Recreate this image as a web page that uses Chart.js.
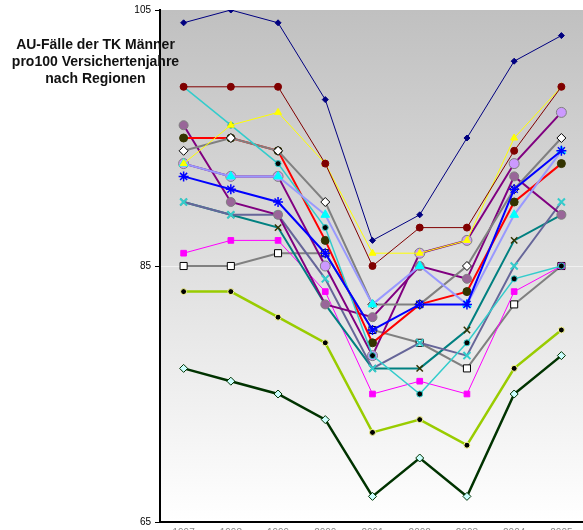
<!DOCTYPE html>
<html>
<head>
<meta charset="utf-8">
<script src="https://cdn.jsdelivr.net/npm/chart.js@4/dist/chart.umd.min.js"></script>
<style>
  html, body { margin: 0; padding: 0; background: #fff; overflow: hidden; }
  #wrap { position: relative; width: 583px; height: 530px; overflow: hidden; }
  #title {
    position: absolute; left: 0; top: 36px; width: 191px;
    font: bold 14px "Liberation Sans", Arial, sans-serif; line-height: 17px;
    text-align: center; color: #111;
  }
</style>
</head>
<body>
<div id="wrap">
  <canvas id="chart" width="592" height="545"></canvas>
  <div id="title">AU-Fälle der TK Männer<br>pro100 Versichertenjahre<br>nach Regionen</div>
</div>
<script>
// x categories (bottom labels are cut off in the picture)
const years = ["1997", "1998", "1999", "2000", "2001", "2002", "2003", "2004", "2005"];
const yTicks = [65, 85, 105];

// one array per region line
const navyVals     = [104, 105, 104, 98, 87, 89, 95, 101, 103];
const maroonVals   = [99, 99, 99, 93, 85, 88, 88, 94, 99];
const yellowVals   = [93, 96, 97, 93, 86, 86, 87, 95, 99];
const cyanVals     = [99, 96, 93, 88, 78, 75, 79, 84, 85];
const slateVals    = [90, 89, 89, 84, 77, 79, 78, 85, 90];
const tealVals     = [90, 89, 88, 82, 77, 77, 80, 87, 89];
const graySqVals   = [85, 85, 86, 86, 80, 79, 77, 82, 85];
const lavenderVals = [93, 92, 92, 89, 82, 85, 82, 89, 94];
const mauveVals    = [96, 90, 89, 82, 81, 85, 84, 92, 89];
const redVals      = [95, 95, 94, 87, 79, 82, 83, 90, 93];
const grayDiaVals  = [94, 95, 94, 90, 82, 82, 85, 91, 95];
const blueVals     = [92, 91, 90, 86, 80, 82, 82, 91, 94];
const magentaVals  = [86, 87, 87, 83, 75, 76, 75, 83, 85];
const lilacVals    = [93, 92, 92, 85, 78, 86, 87, 93, 97];
const greenYVals   = [83, 83, 81, 79, 72, 73, 71, 77, 80];
const darkGrnVals  = [77, 76, 75, 73, 67, 70, 67, 75, 78];

function line(data, color, width, style, radius, fill, border, bw) {
  return {
    data: data,
    borderColor: color,
    borderWidth: width,
    pointStyle: style,
    pointRadius: radius,
    pointBackgroundColor: fill,
    pointBorderColor: border,
    pointBorderWidth: bw,
    tension: 0,
    fill: false
  };
}

// gray-to-white fill behind the plot
const bgPlugin = {
  id: "bg",
  beforeDraw(chart) {
    const a = chart.chartArea, ctx = chart.ctx;
    const g = ctx.createLinearGradient(0, a.top, 0, a.bottom);
    g.addColorStop(0, "#c0c0c0");
    g.addColorStop(1, "#ffffff");
    ctx.save();
    ctx.fillStyle = g;
    ctx.fillRect(a.left, a.top, a.right - a.left, a.bottom - a.top);
    ctx.restore();
  }
};

new Chart(document.getElementById("chart"), {
  type: "line",
  data: {
    labels: years,
    datasets: [
      line(navyVals, "#000080", 1, "rectRot", 3, "#000080", "#000080", 1),
      line(maroonVals, "#800000", 1, "circle", 3.5, "#800000", "#800000", 1),
      line(yellowVals, "#ffff00", 1, "triangle", 4, "#ffff00", "#ffff00", 1),
      line(blueVals, "#0000ff", 2, "star", 5, "#0000ff", "#0000ff", 1.5),
      line(lavenderVals, "#9999ff", 2, "triangle", 5, "#00ffff", "#00ffff", 1),
      line(cyanVals, "#33cccc", 1.5, "circle", 3, "#000000", "#33cccc", 1),
      line(grayDiaVals, "#808080", 2, "rectRot", 4.5, "#ffffff", "#000000", 1),
      line(redVals, "#ff0000", 2, "circle", 4, "#333300", "#333300", 1),
      line(mauveVals, "#800080", 2, "circle", 4.5, "#996699", "#808080", 1),
      line(lilacVals, "#800080", 2, "circle", 5, "#cc99ff", "#808080", 1),
      line(slateVals, "#666699", 2, "crossRot", 5, "#33cccc", "#33cccc", 2),
      line(tealVals, "#008080", 2, "crossRot", 4.5, "#333300", "#333300", 1.5),
      line(magentaVals, "#ff00ff", 1, "rect", 4, "#ff00ff", "#ff00ff", 1),
      line(graySqVals, "#808080", 2, "rect", 5, "#ffffff", "#000000", 1),
      line(greenYVals, "#99cc00", 2.5, "circle", 3, "#000000", "#ffff99", 1),
      line(darkGrnVals, "#003300", 2.5, "rectRot", 4, "#ccffff", "#003300", 1)
    ]
  },
  options: {
    responsive: false,
    animation: false,
    layout: { padding: { top: 10, right: 0, bottom: 0, left: 0 } },
    plugins: { legend: { display: false }, tooltip: { enabled: false } },
    scales: {
      x: {
        offset: true,
        grid: { display: false, drawTicks: false },
        border: { color: "#000", width: 2 },
        ticks: { color: "#888", font: { family: "Liberation Sans, Arial", size: 10 }, maxRotation: 0, padding: 5 },
        afterFit: s => { s.height = 23; }
      },
      y: {
        min: 65,
        max: 105,
        afterBuildTicks: s => { s.ticks = yTicks.map(v => ({ value: v })); },
        grid: {
          color: c => (c.tick && c.tick.value === 85 ? "rgba(255,255,255,0.55)" : "transparent"),
          tickColor: "#000",
          tickLength: 5
        },
        border: { color: "#000", width: 2 },
        ticks: { color: "#000", font: { family: "Liberation Sans, Arial", size: 10 }, padding: 4 },
        afterFit: s => { s.width = 160; }
      }
    }
  },
  plugins: [bgPlugin]
});
</script>
</body>
</html>
